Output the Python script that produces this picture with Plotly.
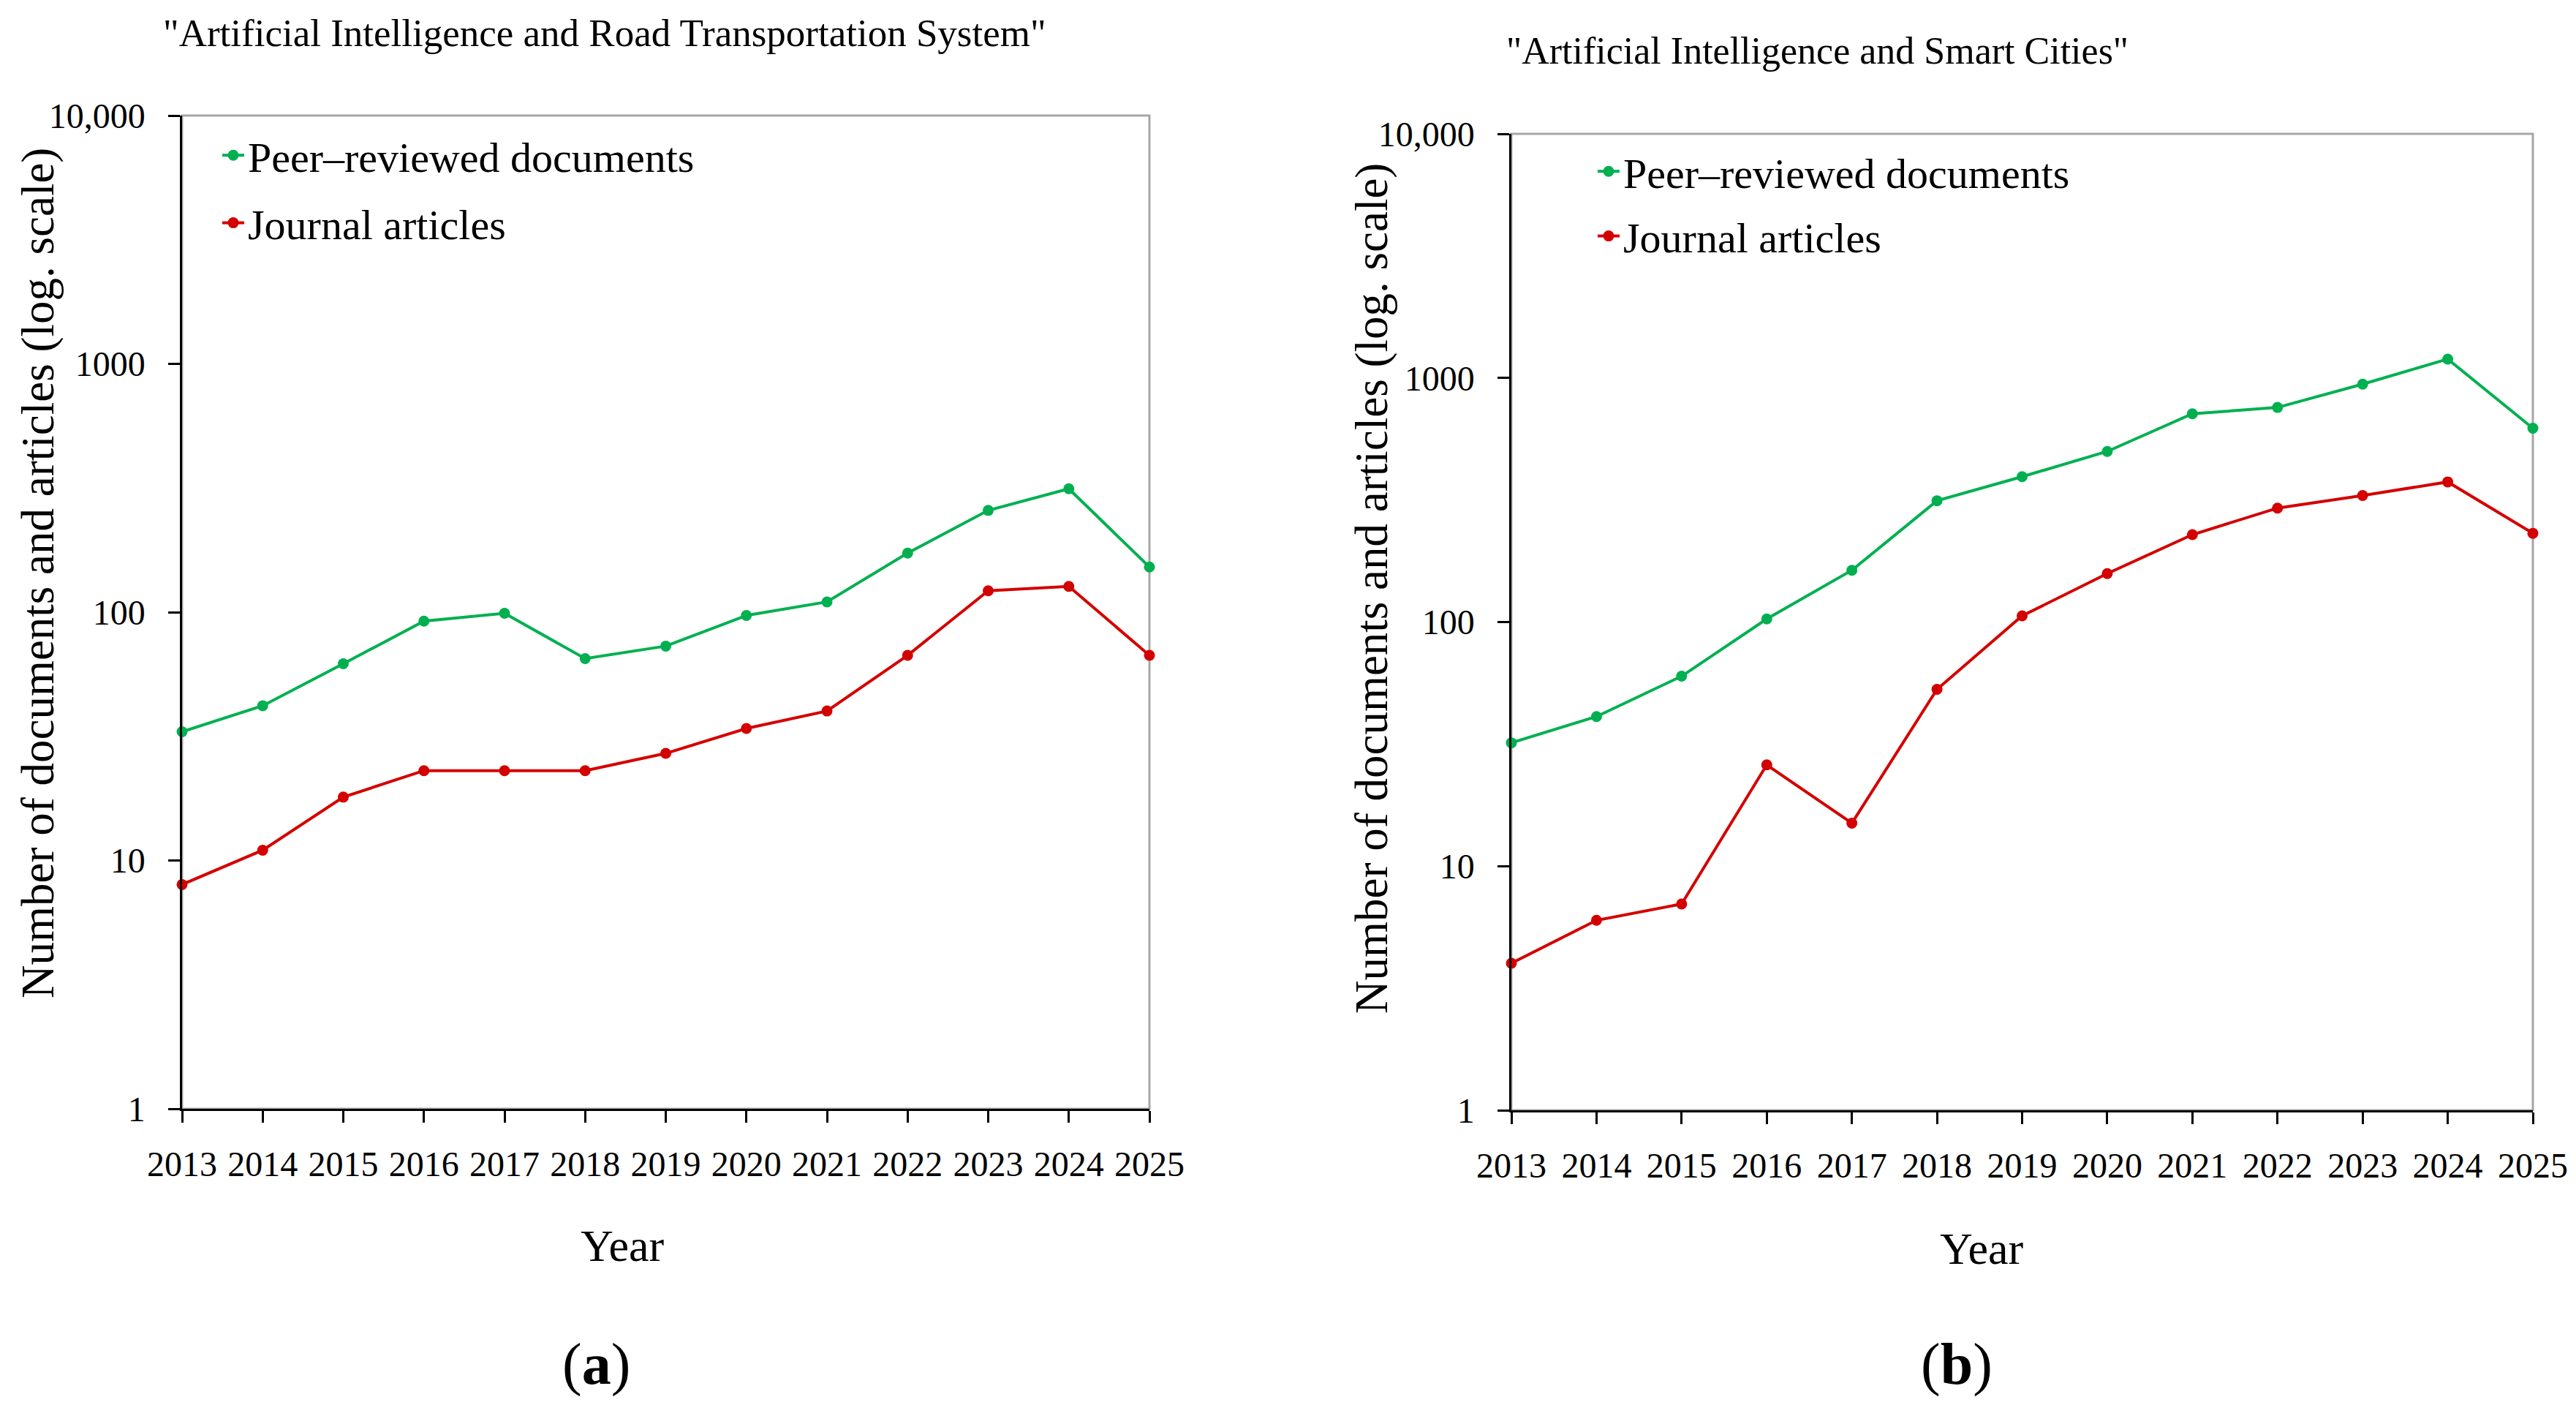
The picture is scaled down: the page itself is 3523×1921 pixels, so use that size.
import plotly.graph_objects as go

W, H = 3523, 1921

years = list(range(2013, 2026))

# Panel (a): AI and Road Transportation System
road_peer = [33, 42, 62, 92, 99, 65, 73, 97, 110, 173, 257, 314, 152]
road_journal = [8, 11, 18, 23, 23, 23, 27, 34, 40, 67, 122, 127, 67]

# Panel (b): AI and Smart Cities
city_peer = [32, 41, 60, 103, 163, 314, 394, 500, 713, 757, 943, 1195, 622]
city_journal = [4, 6, 7, 26, 15, 53, 106, 158, 228, 293, 330, 375, 231]

y_tickvals = [1, 10, 100, 1000, 10000]
y_ticktext = ["1", "10", "100", "1000", "10,000"]
x_ticks = years

series_names = ["Peer\u2013reviewed documents", "Journal articles"]
titles = ['"Artificial Intelligence and Road Transportation System"',
          '"Artificial Intelligence and Smart Cities"']
panel_labels = ["a", "b"]

GREEN = "#00B050"
RED = "#D40000"
FONT = "Liberation Serif"

def px_x(p):
    return p / W

def px_y(p):
    return 1 - p / H

fig = go.Figure()

panels = [
    dict(peer=road_peer, jour=road_journal, xa="x", ya="y", legend="legend"),
    dict(peer=city_peer, jour=city_journal, xa="x2", ya="y2", legend="legend2"),
]

for p in panels:
    for name, vals, col in [(series_names[0], p["peer"], GREEN),
                            (series_names[1], p["jour"], RED)]:
        fig.add_trace(go.Scatter(
            x=years, y=vals, name=name, mode="lines+markers",
            line=dict(color=col, width=4),
            marker=dict(color=col, size=15),
            xaxis=p["xa"], yaxis=p["ya"], legend=p["legend"],
            legendgroup=p["legend"] + name, cliponaxis=False,
        ))

dom = {
    "a": dict(x=[px_x(249), px_x(1572)], y=[px_y(1516), px_y(158)]),
    "b": dict(x=[px_x(2067), px_x(3464)], y=[px_y(1518), px_y(183)]),
}

def xaxis_cfg(d, anchor):
    return dict(domain=d["x"], anchor=anchor, range=[2013, 2025],
                tickvals=x_ticks, ticktext=[str(t) for t in x_ticks],
                showline=True, linecolor="black", linewidth=2.5,
                ticks="outside", ticklen=16, tickwidth=2.5, tickcolor="black",
                showgrid=False, zeroline=False, ticklabelstandoff=16,
                automargin=False,
                tickfont=dict(family=FONT, size=48, color="black"))

def yaxis_cfg(d, anchor):
    return dict(domain=d["y"], anchor=anchor, type="log", range=[0, 4],
                tickvals=y_tickvals, ticktext=y_ticktext,
                showline=True, linecolor="black", linewidth=2.5,
                ticks="outside", ticklen=16, tickwidth=2.5, tickcolor="black",
                showgrid=False, zeroline=False, ticklabelstandoff=22,
                automargin=False,
                tickfont=dict(family=FONT, size=48, color="black"))

fig.update_layout(
    width=W, height=H,
    margin=dict(l=0, r=0, t=0, b=0, autoexpand=False),
    paper_bgcolor="white", plot_bgcolor="white",
    xaxis=xaxis_cfg(dom["a"], "y"),
    yaxis=yaxis_cfg(dom["a"], "x"),
    xaxis2=xaxis_cfg(dom["b"], "y2"),
    yaxis2=yaxis_cfg(dom["b"], "x2"),
    legend=dict(x=px_x(299), y=px_y(168), xanchor="left", yanchor="top",
                font=dict(family=FONT, size=58, color="black"),
                bgcolor="rgba(0,0,0,0)", tracegroupgap=14, itemwidth=30),
    legend2=dict(x=px_x(2180), y=px_y(190), xanchor="left", yanchor="top",
                 font=dict(family=FONT, size=58, color="black"),
                 bgcolor="rgba(0,0,0,0)", tracegroupgap=10, itemwidth=30),
)

# gray frame (top/right) behind axes
for xr, yr in [("x domain", "y domain"), ("x2 domain", "y2 domain")]:
    fig.add_shape(type="rect", xref=xr, yref=yr, x0=0, x1=1, y0=0, y1=1,
                  line=dict(color="#A6A6A6", width=3), layer="below")

ann = []
# titles
ann.append(dict(text=titles[0], x=px_x(827), y=px_y(45), font_size=53))
ann.append(dict(text=titles[1], x=px_x(2485), y=px_y(70), font_size=52))
# y-axis titles
ytitle = "Number of documents and articles (log. scale)"
ann.append(dict(text=ytitle, x=px_x(52), y=px_y(784), font_size=63, textangle=-90))
ann.append(dict(text=ytitle, x=px_x(1876), y=px_y(805), font_size=63, textangle=-90))
# x-axis titles
ann.append(dict(text="Year", x=px_x(851), y=px_y(1703), font_size=62))
ann.append(dict(text="Year", x=px_x(2710), y=px_y(1707), font_size=62))
# panel labels
ann.append(dict(text="(<b>%s</b>)" % panel_labels[0], x=px_x(815), y=px_y(1865), font_size=80))
ann.append(dict(text="(<b>%s</b>)" % panel_labels[1], x=px_x(2676), y=px_y(1865), font_size=80))

for a in ann:
    fs = a.pop("font_size")
    fig.add_annotation(xref="paper", yref="paper", showarrow=False,
                       xanchor="center", yanchor="middle",
                       font=dict(family=FONT, size=fs, color="black"), **a)

fig.write_html(
    "out.html",
    config={"displayModeBar": False},
    post_script="document.body.style.margin='0';document.body.style.overflow='hidden';",
)
